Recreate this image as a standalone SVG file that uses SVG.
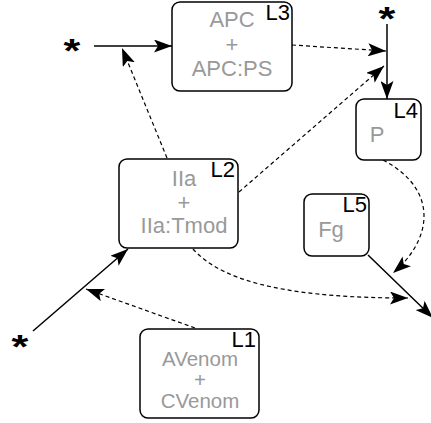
<svg xmlns="http://www.w3.org/2000/svg" width="431" height="423" viewBox="0 0 431 423">
<style>
.box{fill:#fff;stroke:#000;stroke-width:1.5}
.t{font-family:"Liberation Sans",Arial,sans-serif;font-size:22px;fill:#999;text-anchor:middle}
.t2{font-family:"Liberation Sans",Arial,sans-serif;font-size:20.5px;fill:#999;text-anchor:middle}
.l{font-family:"Liberation Sans",Arial,sans-serif;font-size:22px;fill:#000;text-anchor:end}
.ast{font-family:"Liberation Sans",Arial,sans-serif;font-size:24px;font-weight:bold;fill:#000;text-anchor:middle}
.s{fill:none;stroke:#000;stroke-width:1.5}
.d{fill:none;stroke:#000;stroke-width:1.2;stroke-dasharray:4,3}
</style>
<defs>
<marker id="ah" markerUnits="userSpaceOnUse" markerWidth="19" markerHeight="13" refX="18" refY="6.5" orient="auto">
<path d="M0,0 L18,6.5 L0,13 L4,6.5 z" fill="#000"/>
</marker>
</defs>
<g id="connectors">
<line class="s" x1="94" y1="46" x2="172" y2="46" marker-end="url(#ah)"/>
<line class="d" x1="167" y1="158" x2="122" y2="48" marker-end="url(#ah)"/>
<line class="s" x1="387" y1="24" x2="387" y2="99" marker-end="url(#ah)"/>
<line class="d" x1="292" y1="45" x2="386" y2="51" marker-end="url(#ah)"/>
<line class="d" x1="239" y1="192" x2="384" y2="66" marker-end="url(#ah)"/>
<path class="d" d="M383,160 C440,190 432,240 393,273" marker-end="url(#ah)"/>
<path class="d" d="M193,249 C225,285 300,298 408,298" marker-end="url(#ah)"/>
<line class="s" x1="368" y1="255" x2="433" y2="318" marker-end="url(#ah)"/>
<line class="s" x1="33" y1="331" x2="128" y2="249" marker-end="url(#ah)"/>
<line class="d" x1="195" y1="328" x2="86" y2="289" marker-end="url(#ah)"/>
</g>
<g id="star1" transform="translate(72,47) scale(1.8,1.4)"><text class="ast" x="0" y="11">*</text></g>
<g id="star2" transform="translate(387,15) scale(1.8,1.4)"><text class="ast" x="0" y="11">*</text></g>
<g id="star3" transform="translate(20,343) scale(1.8,1.4)"><text class="ast" x="0" y="11">*</text></g>
<g id="L3">
<rect class="box" x="172" y="2" width="120" height="89" rx="8"/>
<text class="t" x="232" y="27">APC</text>
<text class="t" x="232" y="52">+</text>
<text class="t" x="232" y="76">APC:PS</text>
<text class="l" x="290" y="20">L3</text>
</g>
<g id="L2">
<rect class="box" x="119" y="159" width="119" height="89" rx="8"/>
<text class="t" x="184" y="186">IIa</text>
<text class="t" x="184" y="210">+</text>
<text class="t" x="184" y="233">IIa:Tmod</text>
<text class="l" x="235" y="177">L2</text>
</g>
<g id="L4">
<rect class="box" x="356" y="99" width="65" height="61" rx="8"/>
<text class="t" x="377" y="142">P</text>
<text class="l" x="418" y="118">L4</text>
</g>
<g id="L5">
<rect class="box" x="304" y="194" width="65" height="62" rx="8"/>
<text class="t" x="331" y="237">Fg</text>
<text class="l" x="367" y="212">L5</text>
</g>
<g id="L1">
<rect class="box" x="140" y="329" width="119" height="89" rx="8"/>
<text class="t2" x="200" y="366">AVenom</text>
<text class="t2" x="200" y="387">+</text>
<text class="t2" x="200" y="408">CVenom</text>
<text class="l" x="256" y="347">L1</text>
</g>
</svg>
